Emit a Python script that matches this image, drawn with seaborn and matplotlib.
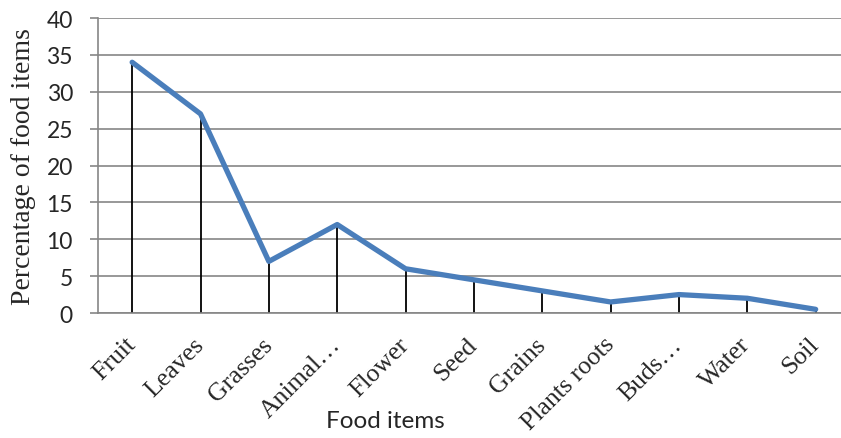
import matplotlib
matplotlib.use("Agg")
import matplotlib.pyplot as plt
import seaborn as sns
import pandas as pd
import numpy as np

categories = ["Fruit", "Leaves", "Grasses", "Animal\u2026", "Flower", "Seed",
              "Grains", "Plants roots", "Buds\u2026", "Water", "Soil"]
percentages = [34, 27, 7, 12, 6, 4.5, 3, 1.5, 2.5, 2, 0.5]
y_ticks = [0, 5, 10, 15, 20, 25, 30, 35, 40]

sns.set_theme(style="white")
plt.rcParams["font.family"] = ["Lato", "DejaVu Sans"]

df = pd.DataFrame({"item": categories, "pct": percentages})

fig = plt.figure(figsize=(8.41, 4.39), dpi=100)
ax = fig.add_axes([0.1165, 0.2847, 0.894, 0.672])

grid_col = "#868686"
for v in y_ticks:
    ax.axhline(v, color=grid_col, lw=1.2, zorder=0)

pos = np.arange(len(categories))
ax.vlines(pos, 0, df["pct"], color="black", lw=1.3, zorder=2)
sns.lineplot(x=pos, y=df["pct"], ax=ax, color="#4A7EBB", lw=3.8,
             sort=False, zorder=3, solid_capstyle="round", solid_joinstyle="round")

ax.set_xlim(-0.5, len(categories) - 0.5)
ax.set_ylim(0, 40)
ax.set_yticks(y_ticks)
ax.set_yticklabels([str(v) for v in y_ticks], fontsize=16.5)

ax.set_xticks(pos)
ax.set_xticklabels(categories, rotation=45, ha="right", va="center",
                   rotation_mode="anchor", family="Liberation Serif", fontsize=18.5)
ax.tick_params(axis="x", which="major", length=0, pad=20)
ax.tick_params(axis="y", which="major", length=6, width=1.2, color=grid_col,
               direction="out", left=True, pad=12)

for s in ["top", "right"]:
    ax.spines[s].set_visible(False)
for s in ["left", "bottom"]:
    ax.spines[s].set_color(grid_col)
    ax.spines[s].set_linewidth(1.2)

ax.set_xlabel("Food items", fontsize=17.5)
ax.set_ylabel("Percentage of food items", family="Liberation Serif", fontsize=20)
ax.yaxis.set_label_coords(-0.083, 0.5)
ax.xaxis.set_label_coords(0.382, -0.33)

fig.savefig("out.png", dpi=100)
